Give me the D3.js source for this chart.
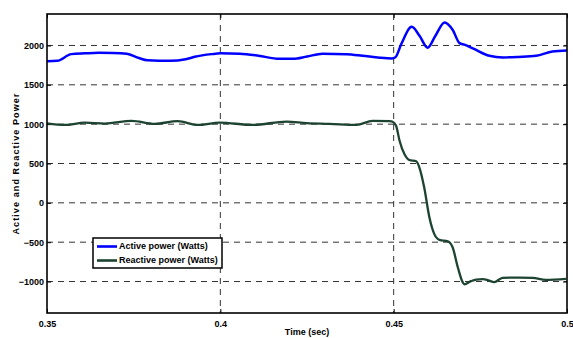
<!DOCTYPE html>
<html><head><meta charset="utf-8">
<script src="https://cdn.jsdelivr.net/npm/d3@7/dist/d3.min.js"></script>
<style>body{margin:0;background:#fff}svg{display:block}text{font-family:"Liberation Sans",Arial,sans-serif;font-weight:bold}</style>
</head><body><svg id="c" width="573" height="338"></svg>
<script>
const activeTime = [0.350,0.353,0.357,0.361,0.365,0.369,0.373,0.3765,0.379,0.3855,0.390,0.3926,0.3975,0.400,0.4056,0.411,0.417,0.421,0.425,0.4295,0.4364,0.441,0.446,0.4495,0.4505,0.4522,0.4552,0.4575,0.4598,0.462,0.4647,0.467,0.469,0.4704,0.473,0.4776,0.4815,0.486,0.4911,0.4958,0.500];
const activePower = [1800,1805,1890,1900,1907,1905,1895,1840,1812,1805,1825,1856,1890,1900,1895,1870,1830,1830,1860,1895,1890,1870,1844,1835,1850,2018,2237,2120,1971,2120,2292,2200,2030,2010,1960,1870,1848,1855,1870,1924,1937];
const reactiveTime = [0.350,0.3552,0.3609,0.3667,0.3744,0.3811,0.3877,0.3935,0.3998,0.4093,0.4191,0.4249,0.4315,0.4393,0.4439,0.4488,0.4497,0.4507,0.4517,0.4531,0.4545,0.4565,0.4574,0.4588,0.4603,0.4617,0.4632,0.4656,0.4670,0.4685,0.4699,0.4704,0.4723,0.4738,0.4757,0.4773,0.4790,0.4814,0.4862,0.4901,0.4939,0.4997];
const reactivePower = [1010,990,1020,1008,1042,1004,1038,990,1020,990,1033,1013,1004,990,1042,1038,1030,980,790,620,545,528,452,198,-183,-394,-470,-488,-564,-818,-1008,-1035,-995,-975,-970,-985,-1008,-953,-950,-953,-978,-965];
const xTicks = [0.35,0.4,0.45,0.5];
const yTicks = [-1000,-500,0,500,1000,1500,2000];
const seriesNames = ["Active power (Watts)","Reactive power (Watts)"];
const seriesColors = ["#0000ff","#1d4331"];

const svg = d3.select("#c");
const L=47,R=567,T=14,B=313;
const x = d3.scaleLinear().domain([0.35,0.5]).range([L,R]);
const y = d3.scaleLinear().domain([-1400,2400]).range([B,T]);

// grid
const g = svg.append("g");
g.selectAll(".gy").data(yTicks).join("line")
 .attr("x1",L).attr("x2",R).attr("y1",d=>y(d)).attr("y2",d=>y(d))
 .attr("stroke","#333").attr("stroke-width",1).attr("stroke-dasharray","6,5");
g.selectAll(".gx").data(xTicks.slice(1,3)).join("line")
 .attr("y1",T).attr("y2",B).attr("x1",d=>x(d)).attr("x2",d=>x(d))
 .attr("stroke","#333").attr("stroke-width",1).attr("stroke-dasharray","6,5");

// axes
const fmtX = d=> d===0.5?"0.5":d3.format(".2~f")(d);
const ax = svg.append("g").attr("transform",`translate(0,${B})`)
 .call(d3.axisBottom(x).tickValues(xTicks).tickFormat(fmtX).tickSizeInner(-4).tickSizeOuter(0).tickPadding(8));
const ay = svg.append("g").attr("transform",`translate(${L},0)`)
 .call(d3.axisLeft(y).tickValues(yTicks).tickFormat(d3.format("d")).tickSizeInner(-4).tickSizeOuter(0).tickPadding(3));
const axT = svg.append("g").attr("transform",`translate(0,${T})`)
 .call(d3.axisTop(x).tickValues(xTicks).tickFormat("").tickSizeInner(-4).tickSizeOuter(0));
const ayR = svg.append("g").attr("transform",`translate(${R},0)`)
 .call(d3.axisRight(y).tickValues(yTicks).tickFormat("").tickSizeInner(-4).tickSizeOuter(0));
[ax,ay,axT,ayR].forEach(a=>{a.select(".domain").remove();a.selectAll("line").attr("stroke","#000");
 a.selectAll("text").attr("font-size","9px").attr("font-weight","bold").attr("fill","#000").attr("font-family","Liberation Sans, Arial, sans-serif");});

// lines
const line = (ts,vs)=> d3.line().x((d,i)=>x(ts[i])).y(d=>y(d)).curve(d3.curveMonotoneX)(vs);
svg.append("path").attr("d",line(activeTime,activePower)).attr("fill","none").attr("stroke",seriesColors[0]).attr("stroke-width",2.5);
svg.append("path").attr("d",line(reactiveTime,reactivePower)).attr("fill","none").attr("stroke",seriesColors[1]).attr("stroke-width",2.3);

// frame
svg.append("rect").attr("x",L).attr("y",T).attr("width",R-L).attr("height",B-T).attr("fill","none").attr("stroke","#000").attr("stroke-width",1.6);

// labels
svg.append("text").attr("x",(L+R)/2).attr("y",333).attr("text-anchor","middle").attr("dominant-baseline","middle").attr("font-size","9px").text("Time (sec)");
svg.append("text").attr("transform",`translate(17,${(T+B)/2}) rotate(-90)`).attr("text-anchor","middle").attr("dominant-baseline","middle").attr("font-size","9px").attr("letter-spacing","1.1px").text("Active and Reactive Power");

// legend
const lg = svg.append("g");
lg.append("rect").attr("x",93).attr("y",238).attr("width",129).attr("height",30).attr("fill","#fff").attr("stroke","#000").attr("stroke-width",1.5);
seriesNames.forEach((n,i)=>{
  const yy = 246.5 + i*14;
  lg.append("line").attr("x1",97).attr("x2",117).attr("y1",yy).attr("y2",yy).attr("stroke",seriesColors[i]).attr("stroke-width",2.6);
  lg.append("text").attr("x",119).attr("y",yy).attr("dominant-baseline","middle").attr("font-size","9px").text(n);
});
</script></body></html>
